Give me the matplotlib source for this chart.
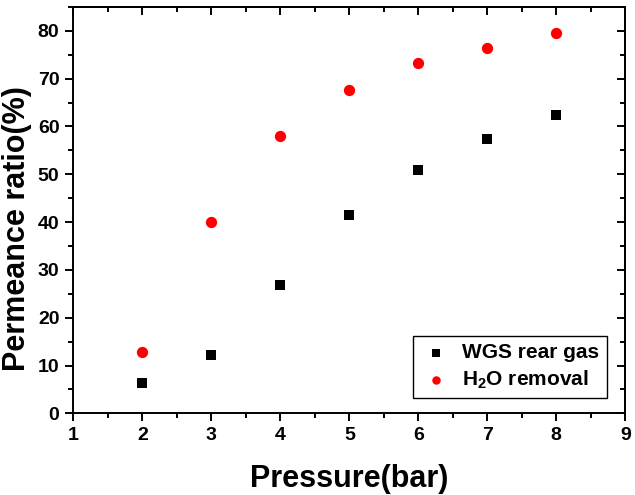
import matplotlib
matplotlib.use("Agg")
import matplotlib.pyplot as plt
from matplotlib.ticker import MultipleLocator

# values
pressure = [2, 3, 4, 5, 6, 7, 8]
wgs_rear_gas = [6.4, 12.1, 26.8, 41.5, 51.0, 57.3, 62.4]
h2o_removal = [12.8, 40.1, 58.0, 67.6, 73.3, 76.4, 79.6]

plt.rcParams["font.family"] = "Liberation Sans"
plt.rcParams["font.weight"] = "bold"
plt.rcParams["mathtext.fontset"] = "custom"
plt.rcParams["mathtext.rm"] = "Liberation Sans:bold"
plt.rcParams["mathtext.default"] = "rm"


def main():
    fig = plt.figure(figsize=(6.35, 4.95), dpi=100)
    ax = fig.add_axes([0.1155, 0.165, 0.8692, 0.8209])

    ax.scatter(pressure, wgs_rear_gas, marker="s", s=58, color="black",
               linewidths=0, label="WGS rear gas", zorder=3)
    ax.scatter(pressure, h2o_removal, marker="o", s=66, color="red",
               linewidths=0, label="H$_2$O removal", zorder=3)

    ax.set_xlim(1, 9)
    ax.set_ylim(0, 85)
    ax.xaxis.set_major_locator(MultipleLocator(1))
    ax.xaxis.set_minor_locator(MultipleLocator(0.5))
    ax.yaxis.set_major_locator(MultipleLocator(10))
    ax.yaxis.set_minor_locator(MultipleLocator(5))
    ax.set_yticks(range(0, 81, 10))

    for s in ax.spines.values():
        s.set_linewidth(1.4)
    ax.tick_params(which="major", direction="out", length=6, width=1.4,
                   labelsize=14, pad=4)
    ax.tick_params(which="minor", direction="out", length=3.5, width=1.4)

    # mirrored ticks pointing inward on top and right
    top = ax.secondary_xaxis("top")
    top.xaxis.set_major_locator(MultipleLocator(1))
    top.xaxis.set_minor_locator(MultipleLocator(0.5))
    top.tick_params(which="major", direction="in", length=6, width=1.4,
                    labeltop=False)
    top.tick_params(which="minor", direction="in", length=3.5, width=1.4)
    right = ax.secondary_yaxis("right")
    right.yaxis.set_major_locator(MultipleLocator(10))
    right.yaxis.set_minor_locator(MultipleLocator(5))
    right.tick_params(which="major", direction="in", length=6, width=1.4,
                      labelright=False)
    right.tick_params(which="minor", direction="in", length=3.5, width=1.4)
    for sec in (top, right):
        for s in sec.spines.values():
            s.set_linewidth(1.4)

    ax.set_xlabel("Pressure(bar)", fontsize=22, fontweight="bold")
    ax.set_ylabel("Permeance ratio(%)", fontsize=22, fontweight="bold")
    ax.xaxis.set_label_coords(0.5, -0.125)
    ax.yaxis.set_label_coords(-0.074, 0.455)

    leg = ax.legend(loc="lower right", bbox_to_anchor=(0.966, 0.038),
                    borderaxespad=0, fancybox=False, edgecolor="black",
                    framealpha=1, fontsize=15, handletextpad=0.5,
                    markerscale=0.75, borderpad=0.35, labelspacing=0.3,
                    handlelength=1.5)
    leg.get_frame().set_linewidth(1.0)

    fig.savefig("out.png", dpi=100)


if __name__ == "__main__":
    main()
